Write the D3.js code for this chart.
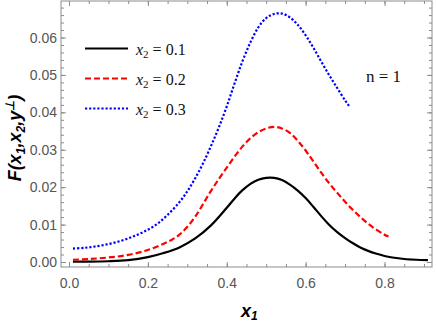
<!DOCTYPE html>
<html>
<head>
<meta charset="utf-8">
<script src="https://cdn.jsdelivr.net/npm/d3@7"></script>
<style>
body{margin:0;background:#fff}
svg{display:block}
</style>
</head>
<body>
<div id="chart"></div>
<script>
// x1 grid points and values
var x1_a = [0.01,0.05,0.10,0.15,0.20,0.24,0.28,0.32,0.36,0.40,0.42,0.44,0.46,0.48,0.50,0.52,0.54,0.56,0.58,0.60,0.62,0.64,0.66,0.68,0.70,0.72,0.74,0.76,0.78,0.80,0.82,0.85,0.88,0.91]
var f_a  = [0.0001,0.0001,0.0002,0.0005,0.0013,0.0024,0.0039,0.0063,0.0098,0.0145,0.0170,0.0192,0.0209,0.0220,0.0225,0.0225,0.0219,0.0207,0.0191,0.0171,0.0147,0.0122,0.0099,0.0080,0.0064,0.0050,0.0038,0.0029,0.0022,0.0016,0.0012,0.0008,0.0006,0.0005]

var x1_b = [0.01,0.05,0.10,0.15,0.20,0.24,0.26,0.28,0.30,0.32,0.34,0.36,0.38,0.40,0.42,0.44,0.46,0.48,0.50,0.52,0.54,0.56,0.58,0.60,0.62,0.64,0.66,0.68,0.70,0.72,0.74,0.76,0.78,0.80,0.81]
var f_b  = [0.0006,0.0008,0.0012,0.0019,0.0032,0.0049,0.0059,0.0073,0.0094,0.0121,0.0155,0.0190,0.0222,0.0252,0.0282,0.0309,0.0331,0.0347,0.0357,0.0361,0.0357,0.0345,0.0324,0.0298,0.0268,0.0238,0.0210,0.0185,0.0161,0.0139,0.0119,0.0101,0.0086,0.0073,0.0068]

var x1_c = [0.01,0.04,0.07,0.10,0.13,0.16,0.19,0.22,0.25,0.28,0.30,0.32,0.34,0.36,0.38,0.40,0.42,0.44,0.46,0.48,0.50,0.52,0.54,0.56,0.58,0.60,0.62,0.64,0.66,0.68,0.70,0.71]
var f_c  = [0.0036,0.0038,0.0042,0.0048,0.0056,0.0067,0.0081,0.0099,0.0126,0.0160,0.0189,0.0224,0.0264,0.0310,0.0360,0.0416,0.0478,0.0537,0.0587,0.0627,0.0652,0.0663,0.0664,0.0654,0.0634,0.0606,0.0572,0.0535,0.0499,0.0465,0.0432,0.0417]

var labels = ["0.1","0.2","0.3"]
var colors = ["#000000","#ff0000","#0000ff"]
var dashes = [null,"6,3","2.2,1.9"]
var xTicks = [0,0.2,0.4,0.6,0.8]
var yTicks = [0,0.01,0.02,0.03,0.04,0.05,0.06]

var series = [
  {x:x1_a, y:f_a},
  {x:x1_b, y:f_b},
  {x:x1_c, y:f_c}
]

var W = 436, H = 327
var L = 61, R = 432, T = 1, B = 267

var svg = d3.select("#chart").append("svg").attr("width",W).attr("height",H)

var xScale = d3.scaleLinear().domain([-0.0203,0.9204]).range([L,R])
var yScale = d3.scaleLinear().domain([-0.001336,0.06976]).range([B,T])

var frameCol = "#8c8c8c"
var labCol = "#555555"
var font = "'Liberation Sans', Arial, sans-serif"

// minor ticks
var xMinor = d3.range(0,0.921,0.05)
var yMinor = d3.range(0,0.0698,0.002)

function styleAxis(g){
  g.select(".domain").remove()
  g.selectAll("line").attr("stroke",frameCol)
  g.selectAll("text").attr("fill",labCol).style("font-family",font).style("font-size","14px")
}

svg.append("g").attr("transform","translate(0,"+B+")")
  .call(d3.axisBottom(xScale).tickValues(xMinor).tickSize(-3).tickFormat("")).call(styleAxis)
svg.append("g").attr("transform","translate(0,"+T+")")
  .call(d3.axisTop(xScale).tickValues(xMinor).tickSize(-3).tickFormat("")).call(styleAxis)
svg.append("g").attr("transform","translate("+L+",0)")
  .call(d3.axisLeft(yScale).tickValues(yMinor).tickSize(-3).tickFormat("")).call(styleAxis)
svg.append("g").attr("transform","translate("+R+",0)")
  .call(d3.axisRight(yScale).tickValues(yMinor).tickSize(-3).tickFormat("")).call(styleAxis)

// major ticks
svg.append("g").attr("transform","translate(0,"+B+")")
  .call(d3.axisBottom(xScale).tickValues(xTicks).tickSize(-5).tickPadding(11).tickFormat(d3.format(".1f"))).call(styleAxis)
svg.append("g").attr("transform","translate(0,"+T+")")
  .call(d3.axisTop(xScale).tickValues(xTicks).tickSize(-5).tickFormat("")).call(styleAxis)
svg.append("g").attr("transform","translate("+L+",0)")
  .call(d3.axisLeft(yScale).tickValues(yTicks).tickSize(-5).tickPadding(4).tickFormat(d3.format(".2f"))).call(styleAxis)
svg.append("g").attr("transform","translate("+R+",0)")
  .call(d3.axisRight(yScale).tickValues(yTicks).tickSize(-5).tickFormat("")).call(styleAxis)

svg.append("rect").attr("x",L).attr("y",T).attr("width",R-L).attr("height",B-T)
  .attr("fill","none").attr("stroke",frameCol).attr("stroke-width",1)

svg.append("clipPath").attr("id","clip").append("rect")
  .attr("x",L).attr("y",T).attr("width",R-L).attr("height",B-T)

var line = d3.line()
  .x(function(d){return xScale(d[0])})
  .y(function(d){return yScale(d[1])})
  .curve(d3.curveCatmullRom.alpha(0.5))

series.forEach(function(s,i){
  var pts = s.x.map(function(v,j){return [v,s.y[j]]})
  svg.append("path").datum(pts)
    .attr("d",line)
    .attr("fill","none")
    .attr("stroke",colors[i])
    .attr("stroke-width",2.2)
    .attr("stroke-dasharray",dashes[i])
    .attr("clip-path","url(#clip)")
})

// legend
var serif = "'Liberation Serif', 'Times New Roman', serif"
labels.forEach(function(lab,i){
  var yy = 48.5 + i*30
  svg.append("line").attr("x1",85).attr("x2",128).attr("y1",yy).attr("y2",yy)
    .attr("stroke",colors[i]).attr("stroke-width",2.2).attr("stroke-dasharray",dashes[i])
  var t = svg.append("text").attr("x",136).attr("y",yy+6)
    .style("font-family",serif).style("font-size","16px").attr("fill","#111")
  t.append("tspan").text("x").style("font-style","italic")
  t.append("tspan").text("2").attr("dy",3).style("font-size","11px")
  t.append("tspan").text(" = "+lab).attr("dy",-3)
})

svg.append("text").attr("x",366).attr("y",82)
  .style("font-family",serif).style("font-size","17px").attr("fill","#111")
  .text("n = 1")

// axis titles
var xt = svg.append("text").attr("x",241).attr("y",317)
  .style("font-family",font).style("font-size","18px").style("font-weight","bold").style("font-style","italic")
xt.append("tspan").text("x")
xt.append("tspan").text("1").attr("dy",3).style("font-size","12px")

var yt = svg.append("text").attr("transform","translate(21,138) rotate(-90)")
  .attr("text-anchor","middle")
  .style("font-family",font).style("font-size","18px").style("font-weight","bold").style("font-style","italic")
yt.append("tspan").text("F(x")
yt.append("tspan").text("1").attr("dy",4).style("font-size","12px")
yt.append("tspan").text(",x").attr("dy",-4)
yt.append("tspan").text("2").attr("dy",4).style("font-size","12px")
yt.append("tspan").text(",y").attr("dy",-4)
yt.append("tspan").text("\u22A5").attr("dy",-7).style("font-size","12px")
yt.append("tspan").text(")").attr("dy",7)
</script>
</body>
</html>
